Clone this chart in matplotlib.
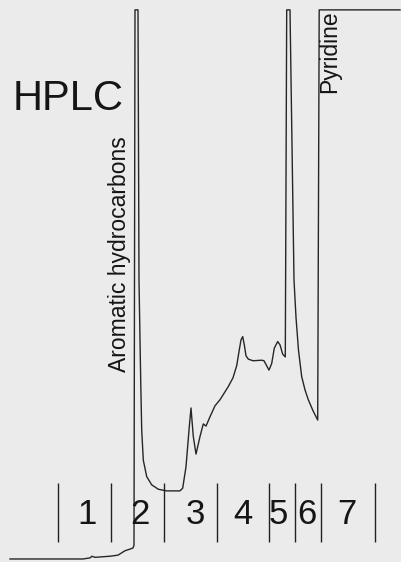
import numpy as np
import matplotlib
matplotlib.use("Agg")
import matplotlib.pyplot as plt

plt.rcParams['font.family'] = ['Liberation Sans', 'DejaVu Sans']

# retention time (min) and detector signal (% of full scale, clipped at 100)
time = [0, 3, 7.3, 8.0, 8.2, 8.5, 10, 10.8, 11.5, 12.0, 12.3, 12.4,
        12.5, 12.8, 12.9, 13.07, 13.17, 13.33, 13.67, 14.17, 14.83, 15.67,
        17.0, 17.27, 17.6, 17.93, 18.1, 18.33, 18.6, 19.0, 19.33, 19.6,
        20.0, 20.5, 21.0, 21.83, 22.3, 22.67, 22.93, 23.1, 23.27, 23.43,
        23.6, 23.83, 24.3, 25.17, 25.4, 25.9, 26.17, 26.43, 26.77, 27.0,
        27.27, 27.53, 27.67, 28.0, 28.4, 28.6, 28.85, 29.17, 29.5, 29.83,
        30.3, 30.77, 30.92, 39.0]
signal = [0, 0, 0, 0.2, 0.5, 0.3, 0.5, 0.7, 1.5, 1.8, 2.0, 2.5,
          100, 100, 50.6, 32.6, 23.5, 18.0, 15.0, 13.5, 12.7, 12.4,
          12.4, 12.9, 16.8, 24.1, 27.5, 22.3, 19.1, 22.3, 24.6, 24.2,
          25.9, 27.9, 29.0, 31.4, 33.0, 35.2, 38.1, 39.9, 40.5, 39.0,
          37.0, 36.4, 36.1, 36.2, 36.1, 34.4, 35.6, 38.4, 39.6, 39.0,
          37.3, 36.8, 100, 100, 50.8, 44.0, 38.0, 33.2, 30.8, 29.0,
          27.0, 25.3, 100, 100]

# fraction cut points and labels
cuts = [4.77, 10.07, 15.43, 20.73, 25.87, 28.47, 31.1, 36.47]
fractions = ['1', '2', '3', '4', '5', '6', '7']
label_pos = [7.7, 13.0, 18.5, 23.3, 26.8, 29.7, 33.7]

fig = plt.figure(figsize=(4.02, 5.62), dpi=100)
fig.patch.set_facecolor('#ebebeb')
ax = fig.add_axes([0, 0, 1, 1])
ax.set_facecolor('#ebebeb')
ax.set_xlim(-1, 39.2)
ax.set_ylim(-0.55, 101.8)
ax.axis('off')

ax.plot(time, signal, color='#262626', lw=1.0)

ax.vlines(cuts, 3.1, 13.8, color='#222222', lw=1.0)
for x, lab in zip(label_pos, fractions):
    ax.text(x, 6.4, lab, fontsize=25, ha='center', va='baseline', color='#151515')

ax.text(0.3, 81.8, 'HPLC', fontsize=30, ha='left', va='baseline', color='#151515')
ax.text(10.95, 34.0, 'Aromatic hydrocarbons', fontsize=16.5, rotation=90,
        ha='center', va='bottom', color='#151515')
ax.text(32.0, 84.9, 'Pyridine', fontsize=16.5, rotation=90,
        ha='center', va='bottom', color='#151515')

fig.savefig('out.png', dpi=100, facecolor=fig.get_facecolor())
